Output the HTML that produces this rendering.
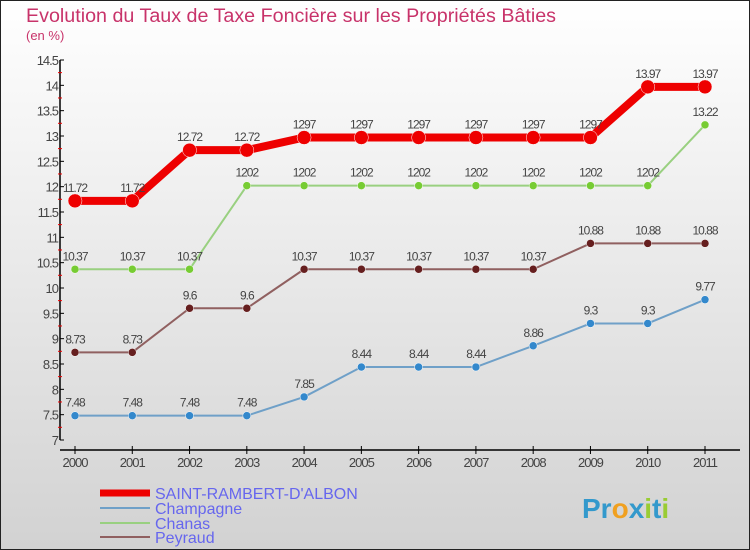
<!DOCTYPE html>
<html><head><meta charset="utf-8"><style>
body{margin:0}
#c{width:750px;height:550px;position:relative;overflow:hidden;font-family:"Liberation Sans",sans-serif}
</style></head><body>
<div id="c">
<svg id="s" width="750" height="550" xmlns="http://www.w3.org/2000/svg">
<defs><linearGradient id="bg" x1="0" y1="0" x2="0" y2="1"><stop offset="0" stop-color="#ffffff"/><stop offset="1" stop-color="#d2d2d2"/></linearGradient></defs>
<rect x="0.5" y="0.5" width="749" height="549" fill="url(#bg)" stroke="#222"/>
<text x="26" y="22" font-size="19.7" fill="#c8336a">Evolution du Taux de Taxe Foncière sur les Propriétés Bâties</text>
<text x="26" y="40" font-size="13" fill="#c8336a">(en %)</text>
<g id="axes"></g><g id="series"></g>
<g>
<line x1="100" y1="493" x2="150" y2="493" stroke="#ee0000" stroke-width="7"/>
<text x="155" y="499" font-size="16" fill="#6666ee">SAINT-RAMBERT-D'ALBON</text>
<line x1="100" y1="508" x2="150" y2="508" stroke="#6fa0c8" stroke-width="2"/>
<text x="155" y="514" font-size="16" fill="#6666ee">Champagne</text>
<line x1="100" y1="523" x2="150" y2="523" stroke="#99d080" stroke-width="2"/>
<text x="155" y="529" font-size="16" fill="#6666ee">Chanas</text>
<line x1="100" y1="537" x2="150" y2="537" stroke="#906060" stroke-width="2"/>
<text x="155" y="543" font-size="16" fill="#6666ee">Peyraud</text>
</g>
<text x="582" y="518" font-size="28" font-weight="bold"><tspan fill="#3399cc">Pr</tspan><tspan fill="#f0a020">o</tspan><tspan fill="#3399cc">x</tspan><tspan fill="#99cc33">i</tspan><tspan fill="#3399cc">t</tspan><tspan fill="#99cc33">i</tspan></text>
</svg></div>
<script>
const years=[2000,2001,2002,2003,2004,2005,2006,2007,2008,2009,2010,2011];
const yTicks=[7,7.5,8,8.5,9,9.5,10,10.5,11,11.5,12,12.5,13,13.5,14,14.5];
const saint=[11.72,11.72,12.72,12.72,12.97,12.97,12.97,12.97,12.97,12.97,13.97,13.97];
const champagne=[7.48,7.48,7.48,7.48,7.85,8.44,8.44,8.44,8.86,9.3,9.3,9.77];
const chanas=[10.37,10.37,10.37,12.02,12.02,12.02,12.02,12.02,12.02,12.02,12.02,13.22];
const peyraud=[8.73,8.73,9.6,9.6,10.37,10.37,10.37,10.37,10.37,10.88,10.88,10.88];
const NS="http://www.w3.org/2000/svg";
const X=i=>75+i*(705-75)/11;
const Y=v=>440-(v-7)*(380/7.5);
function mk(t,a,p){const e=document.createElementNS(NS,t);for(const k in a)e.setAttribute(k,a[k]);p.appendChild(e);return e;}
const ax=document.getElementById('axes');
const yl=mk('line',{x1:60,y1:60,x2:60,y2:440,stroke:'#000','stroke-width':1.5},ax);


const xl=mk('line',{x1:60,y1:450,x2:740,y2:450,stroke:'#000','stroke-width':1.5},ax);


yTicks.forEach(v=>{const y=Y(v);
mk('line',{x1:60,y1:y,x2:64,y2:y,stroke:'#000'},ax);
if(v<14.5)mk('line',{x1:58,y1:y-12.7,x2:62,y2:y-12.7,stroke:'#e00'},ax);
const t=mk('text',{x:58,y:y+5,'font-size':13,fill:'#444','text-anchor':'end','letter-spacing':'-1'},ax);t.textContent=String(v);

});
years.forEach((yr,i)=>{const x=X(i);
mk('line',{x1:x,y1:446,x2:x,y2:454,stroke:'#000'},ax);
const t=mk('text',{x:x,y:467,'font-size':13,fill:'#444','text-anchor':'middle','letter-spacing':'-1'},ax);t.textContent=yr;

});
const sg=document.getElementById('series');
function series(name,vals,col,w,r,dot){
const g=mk('g',{},sg);


mk('polyline',{points:vals.map((v,i)=>X(i)+','+Y(v)).join(' '),fill:'none',stroke:col,'stroke-width':w,'stroke-linejoin':'round'},g);
vals.forEach((v,i)=>{const c=mk('circle',{cx:X(i),cy:Y(v),r:r,fill:dot,stroke:'#fff','stroke-width':0.5},g);


const t=mk('text',{x:X(i),y:Y(v)-9,'font-size':12,fill:'#444','text-anchor':'middle','letter-spacing':'-1'},g);
t.textContent=String(v).replace('12.02','1202').replace('12.97','1297');

});}
series('peyraud',peyraud,'#906060',2,4,'#661f1f');
series('chanas',chanas,'#99d080',2,4,'#77cc33');
series('champagne',champagne,'#6fa0c8',2,4,'#3388cc');
series('saint-rambert',saint,'#ee0000',8,7,'#ee0000');
</script>
</body></html>
